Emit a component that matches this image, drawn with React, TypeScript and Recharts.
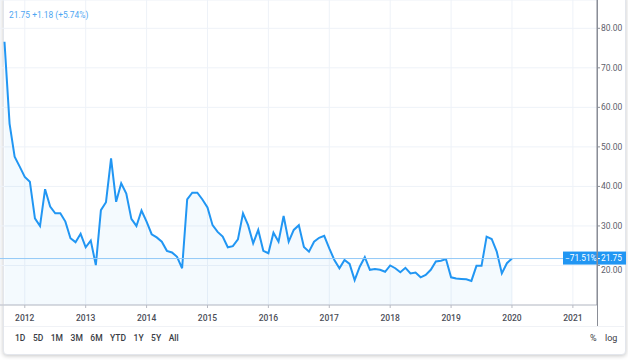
import React from 'react';
import { ComposedChart, Area, XAxis, YAxis, CartesianGrid, ReferenceLine } from 'recharts';

// Monthly closes, first point = Sep 2011, last point = Jan 2020
const firstYear = 2011;
const firstMonthIndex = 8; // September (0-based)
const prices = [
  76.6, 55.9, 47.5, 45.0, 42.4, 41.2, 31.9, 30.0, 39.3, 34.9,
  33.2, 33.2, 31.1, 26.9, 25.9, 28.0, 24.6, 26.3, 20.1, 34.0,
  36.0, 47.1, 36.1, 40.8, 38.2, 31.8, 30.0, 33.9, 31.1, 27.9,
  27.1, 26.0, 23.7, 23.3, 22.2, 19.3, 36.7, 38.4, 38.4, 36.7,
  34.7, 30.2, 28.5, 27.3, 24.6, 24.9, 26.6, 33.2, 30.2, 25.6,
  29.0, 23.7, 23.1, 28.3, 26.0, 32.5, 26.0, 29.0, 30.2, 24.7,
  23.5, 26.0, 27.0, 27.5, 24.3, 21.4, 19.3, 21.4, 20.4, 16.3,
  19.7, 22.1, 18.9, 19.1, 18.9, 18.4, 20.0, 19.3, 18.3, 19.4,
  18.0, 18.2, 17.0, 17.6, 18.9, 21.0, 21.2, 21.6, 17.0, 16.7,
  16.6, 16.5, 16.1, 19.9, 19.9, 27.3, 26.7, 23.5, 18.0, 20.57,
  21.75,
];
const yearTicks = [2012, 2013, 2014, 2015, 2016, 2017, 2018, 2019, 2020, 2021];
const priceTicks = [20, 30, 40, 50, 60, 70, 80];
const lastPrice = 21.75;
const change = '+1.18';
const changePct = '(+5.74%)';
const fromStartPct = '\u221271.51%';
const rangeButtons = ['1D', '5D', '1M', '3M', '6M', 'YTD', '1Y', '5Y', 'All'];

const data = prices.map((p, i) => ({ t: firstYear + (firstMonthIndex + i) / 12, price: p }));

const FONT = 'Roboto, "Liberation Sans", sans-serif';
const BLUE = '#2196f3';

const PriceTick = (props: any) => {
  const { x, y, payload } = props;
  // the lowest label sits just under the last-price tag
  const shift = Math.abs(payload.value - lastPrice) < 3 ? 4.5 : 0;
  return (
    <text x={x} y={y + shift} dy="0.32em" fontSize={8.5} fontFamily={FONT} fill="#5d606b" textAnchor="start">
      {Number(payload.value).toFixed(2)}
    </text>
  );
};

const PriceTag = (props: any) => {
  const vb = props.viewBox || {};
  const right = vb.x + vb.width;
  const cy = vb.y;
  return (
    <g>
      <rect x={right - 34} y={cy - 7} width={63} height={13} fill={BLUE} />
      <line x1={right} x2={right + 3} y1={cy} y2={cy} stroke="#ffffff" strokeWidth={1} />
      <text x={right - 32} y={cy + 2.5} fontSize={8.3} fontFamily={FONT} fill="#ffffff">{fromStartPct}</text>
      <text x={right + 4} y={cy + 2.5} fontSize={8.3} fontFamily={FONT} fill="#ffffff">{lastPrice.toFixed(2)}</text>
    </g>
  );
};

export default function App() {
  return (
    <div style={{ position: 'absolute', left: 0, top: 0, width: 628, height: 361, overflow: 'hidden', background: '#ffffff', fontFamily: FONT }}>
      <div style={{ position: 'absolute', left: 3, top: -6, width: 621, height: 359, border: '1px solid #e3e6ec', borderRadius: 4, boxShadow: '0 1px 4px rgba(0,0,0,0.22)', background: '#ffffff' }} />
      <div style={{ position: 'absolute', left: 0, top: 0 }}>
        <ComposedChart width={628} height={328} data={data} margin={{ top: 0, right: 0, bottom: 0, left: 0 }}>
          <CartesianGrid stroke="#eef2f8" strokeWidth={1} />
          <XAxis
            dataKey="t"
            type="number"
            domain={[2011.593, 2021.396]}
            allowDataOverflow
            ticks={yearTicks}
            interval={0}
            height={23}
            tickSize={3}
            tickMargin={7}
            axisLine={{ stroke: '#b8bbc4' }}
            tickLine={{ stroke: '#b8bbc4' }}
            tick={{ fontSize: 8.5, fill: '#4a4d57', fontFamily: FONT, fontWeight: 500 }}
            tickFormatter={(v: number) => String(Math.round(v))}
          />
          <YAxis
            orientation="right"
            type="number"
            domain={[10, 87.16]}
            allowDataOverflow
            ticks={priceTicks}
            width={31}
            tickSize={3}
            tickMargin={1}
            axisLine={{ stroke: '#8a8d96' }}
            tickLine={{ stroke: '#8a8d96' }}
            tick={<PriceTick />}
          />
          <Area
            type="linear"
            dataKey="price"
            stroke={BLUE}
            strokeWidth={2}
            fill={BLUE}
            fillOpacity={0.05}
            dot={false}
            activeDot={false}
            isAnimationActive={false}
          />
          <ReferenceLine y={lastPrice} stroke="#92c9f7" strokeWidth={1} ifOverflow="visible" label={<PriceTag />} />
        </ComposedChart>
      </div>
      <div style={{ position: 'absolute', left: 597, top: 0, width: 1, height: 326, background: '#8a8d96' }} />
      <div style={{ position: 'absolute', left: 4, top: 326, width: 620, height: 1, background: '#f0f2f6' }} />
      <div style={{ position: 'absolute', left: 9, top: 9, fontSize: 8.4, color: '#4ea6f2', whiteSpace: 'nowrap', lineHeight: '12px' }}>
        {lastPrice.toFixed(2)} {change} {changePct}
      </div>
      <div style={{ position: 'absolute', left: 15, top: 332, display: 'flex', gap: 7.5, fontSize: 8.5, color: '#3a3d46', fontWeight: 500, lineHeight: '12px' }}>
        {rangeButtons.map((b) => (
          <span key={b}>{b}</span>
        ))}
      </div>
      <div style={{ position: 'absolute', left: 590, top: 332, fontSize: 9, color: '#3a3d46', lineHeight: '12px' }}>%</div>
      <div style={{ position: 'absolute', left: 605, top: 332, fontSize: 9, color: '#3a3d46', lineHeight: '12px' }}>log</div>
    </div>
  );
}
